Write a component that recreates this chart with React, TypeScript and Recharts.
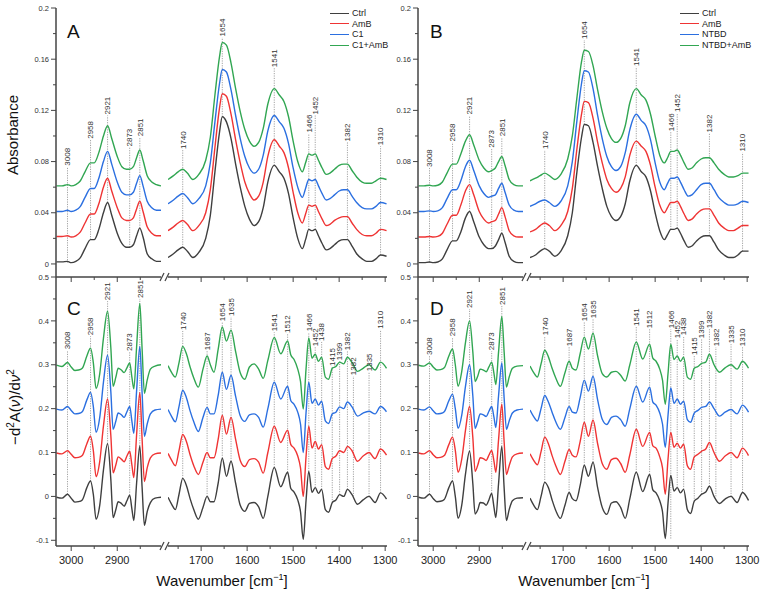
import React from 'react';
import { LineChart, Line, XAxis, YAxis, ReferenceLine, ReferenceDot, Legend } from 'recharts';

const FONT = '"Liberation Sans", Arial, Helvetica, sans-serif';
const KEYS = ['ctrl', 'amb', 'drug', 'combo'];
const COLORS = ['#3f3f3f', '#ef3434', '#2b6fe0', '#31a652'];
const NAMES_C1 = ['Ctrl', 'AmB', 'C1', 'C1+AmB'];
const NAMES_NTBD = ['Ctrl', 'AmB', 'NTBD', 'NTBD+AmB'];

// wavenumber grids, cm-1
const absLeftWn = [3032, 3020, 3008, 3000, 2990, 2980, 2970, 2958, 2950, 2940, 2930, 2921, 2912, 2900, 2890, 2880, 2873, 2865, 2858, 2851, 2844, 2835, 2825, 2815, 2805];
const absRightWn = [1772, 1760, 1750, 1740, 1730, 1718, 1705, 1690, 1680, 1670, 1660, 1654, 1645, 1635, 1625, 1615, 1605, 1595, 1585, 1575, 1565, 1555, 1541, 1530, 1520, 1510, 1500, 1490, 1480, 1473, 1466, 1459, 1452, 1445, 1437, 1428, 1420, 1410, 1400, 1390, 1382, 1372, 1362, 1350, 1340, 1330, 1320, 1310, 1297];
const derLeftWn = [3032, 3020, 3008, 3000, 2992, 2984, 2976, 2966, 2958, 2952, 2946, 2938, 2930, 2921, 2914, 2909, 2903, 2898, 2891, 2885, 2879, 2873, 2868, 2864, 2858, 2851, 2846, 2841, 2835, 2828, 2818, 2805];
const derRightWn = [1772, 1764, 1756, 1748, 1740, 1732, 1724, 1716, 1706, 1696, 1687, 1680, 1672, 1663, 1654, 1645, 1635, 1625, 1615, 1605, 1595, 1585, 1575, 1565, 1555, 1541, 1527, 1512, 1505, 1498, 1490, 1484, 1478, 1472, 1466, 1459, 1452, 1445, 1438, 1430, 1423, 1415, 1407, 1399, 1390, 1382, 1372, 1360, 1348, 1335, 1322, 1310, 1297];

// tick values
const absYTicks = [0, 0.02, 0.04, 0.06, 0.08, 0.1, 0.12, 0.14, 0.16, 0.18, 0.2];
const derYTicks = [-0.1, -0.05, 0, 0.05, 0.1, 0.15, 0.2, 0.25, 0.3, 0.35, 0.4, 0.45, 0.5];
const xTicksLeft = [3000, 2950, 2900, 2850];
const xTicksRight = [1750, 1700, 1650, 1600, 1550, 1500, 1450, 1400, 1350, 1300];

// A: absorbance, C1 series (stacked as shown)
const aCtrlL = [0.0016, 0.0016, 0.002, 0.001, 0.002, 0.005, 0.012, 0.019, 0.019, 0.027, 0.040, 0.048, 0.038, 0.024, 0.016, 0.013, 0.013, 0.015, 0.022, 0.028, 0.021, 0.008, 0.004, 0.002, 0.002];
const aAmbL = [0.0215, 0.0215, 0.022, 0.021, 0.022, 0.025, 0.032, 0.039, 0.039, 0.047, 0.060, 0.067, 0.057, 0.044, 0.036, 0.034, 0.034, 0.036, 0.043, 0.049, 0.041, 0.029, 0.024, 0.022, 0.022];
const aDrugL = [0.041, 0.041, 0.042, 0.041, 0.042, 0.045, 0.052, 0.059, 0.059, 0.067, 0.080, 0.088, 0.078, 0.064, 0.056, 0.054, 0.054, 0.056, 0.063, 0.069, 0.061, 0.049, 0.044, 0.042, 0.042];
const aComboL = [0.061, 0.061, 0.062, 0.061, 0.062, 0.065, 0.072, 0.079, 0.079, 0.087, 0.100, 0.108, 0.098, 0.084, 0.076, 0.074, 0.074, 0.076, 0.083, 0.089, 0.081, 0.069, 0.064, 0.062, 0.061];
const aCtrlR = [0.005, 0.008, 0.011, 0.013, 0.010, 0.005, 0.009, 0.020, 0.038, 0.072, 0.103, 0.115, 0.111, 0.098, 0.078, 0.060, 0.045, 0.035, 0.030, 0.033, 0.044, 0.064, 0.077, 0.072, 0.067, 0.055, 0.036, 0.020, 0.012, 0.019, 0.027, 0.026, 0.027, 0.022, 0.016, 0.011, 0.012, 0.015, 0.018, 0.019, 0.019, 0.014, 0.008, 0.004, 0.002, 0.002, 0.004, 0.007, 0.006];
const aAmbR = [0.026, 0.029, 0.032, 0.034, 0.031, 0.026, 0.030, 0.040, 0.058, 0.091, 0.122, 0.133, 0.131, 0.117, 0.097, 0.079, 0.064, 0.055, 0.050, 0.053, 0.064, 0.084, 0.097, 0.092, 0.087, 0.075, 0.056, 0.040, 0.032, 0.039, 0.046, 0.045, 0.046, 0.041, 0.035, 0.030, 0.031, 0.034, 0.036, 0.037, 0.037, 0.032, 0.027, 0.023, 0.022, 0.022, 0.024, 0.027, 0.026];
const aDrugR = [0.047, 0.050, 0.053, 0.055, 0.052, 0.047, 0.051, 0.061, 0.079, 0.111, 0.141, 0.152, 0.150, 0.136, 0.116, 0.098, 0.084, 0.075, 0.071, 0.074, 0.085, 0.104, 0.116, 0.111, 0.106, 0.094, 0.075, 0.060, 0.052, 0.059, 0.066, 0.065, 0.066, 0.061, 0.055, 0.050, 0.051, 0.054, 0.057, 0.058, 0.058, 0.053, 0.048, 0.044, 0.043, 0.043, 0.045, 0.048, 0.047];
const aComboR = [0.066, 0.069, 0.072, 0.074, 0.071, 0.066, 0.070, 0.081, 0.099, 0.132, 0.162, 0.173, 0.171, 0.157, 0.137, 0.119, 0.105, 0.096, 0.092, 0.095, 0.106, 0.125, 0.137, 0.132, 0.127, 0.115, 0.096, 0.080, 0.072, 0.079, 0.086, 0.085, 0.086, 0.081, 0.075, 0.070, 0.071, 0.074, 0.077, 0.078, 0.078, 0.073, 0.068, 0.064, 0.063, 0.063, 0.065, 0.067, 0.066];

// B: absorbance, NTBD series
const bCtrlL = [0.001, 0.001, 0.0015, 0.001, 0.0015, 0.004, 0.011, 0.018, 0.018, 0.025, 0.036, 0.041, 0.033, 0.021, 0.015, 0.012, 0.012, 0.014, 0.019, 0.024, 0.017, 0.006, 0.002, 0.001, 0.001];
const bAmbL = [0.021, 0.021, 0.0215, 0.021, 0.0215, 0.024, 0.031, 0.038, 0.038, 0.046, 0.057, 0.062, 0.054, 0.041, 0.035, 0.032, 0.033, 0.034, 0.039, 0.044, 0.037, 0.026, 0.022, 0.021, 0.021];
const bDrugL = [0.041, 0.041, 0.0415, 0.041, 0.0415, 0.044, 0.051, 0.058, 0.058, 0.065, 0.076, 0.081, 0.073, 0.061, 0.055, 0.052, 0.053, 0.054, 0.059, 0.063, 0.056, 0.046, 0.042, 0.041, 0.041];
const bComboL = [0.061, 0.061, 0.0615, 0.061, 0.0615, 0.064, 0.071, 0.078, 0.078, 0.086, 0.096, 0.101, 0.093, 0.081, 0.075, 0.072, 0.073, 0.075, 0.080, 0.084, 0.077, 0.066, 0.062, 0.061, 0.061];
const bCtrlR = [0.005, 0.007, 0.010, 0.012, 0.010, 0.006, 0.010, 0.022, 0.040, 0.072, 0.099, 0.109, 0.108, 0.095, 0.076, 0.059, 0.045, 0.037, 0.034, 0.037, 0.047, 0.065, 0.077, 0.072, 0.068, 0.057, 0.040, 0.026, 0.019, 0.023, 0.027, 0.027, 0.028, 0.024, 0.018, 0.013, 0.014, 0.018, 0.021, 0.022, 0.022, 0.017, 0.011, 0.007, 0.005, 0.005, 0.007, 0.010, 0.010];
const bAmbR = [0.025, 0.027, 0.030, 0.032, 0.030, 0.026, 0.030, 0.041, 0.059, 0.090, 0.117, 0.127, 0.126, 0.114, 0.095, 0.079, 0.066, 0.059, 0.056, 0.059, 0.068, 0.085, 0.096, 0.092, 0.088, 0.077, 0.060, 0.046, 0.040, 0.044, 0.048, 0.048, 0.049, 0.045, 0.039, 0.034, 0.035, 0.039, 0.042, 0.043, 0.043, 0.038, 0.032, 0.028, 0.026, 0.026, 0.028, 0.030, 0.030];
const bDrugR = [0.045, 0.047, 0.049, 0.050, 0.048, 0.045, 0.049, 0.061, 0.080, 0.112, 0.141, 0.151, 0.150, 0.137, 0.116, 0.098, 0.084, 0.076, 0.073, 0.076, 0.087, 0.105, 0.117, 0.112, 0.108, 0.097, 0.079, 0.064, 0.058, 0.063, 0.067, 0.067, 0.068, 0.064, 0.058, 0.053, 0.054, 0.058, 0.062, 0.063, 0.063, 0.058, 0.052, 0.048, 0.046, 0.046, 0.047, 0.049, 0.048];
const bComboR = [0.065, 0.067, 0.069, 0.071, 0.069, 0.066, 0.070, 0.082, 0.100, 0.130, 0.158, 0.167, 0.166, 0.155, 0.136, 0.119, 0.106, 0.098, 0.095, 0.098, 0.108, 0.126, 0.137, 0.132, 0.128, 0.117, 0.100, 0.085, 0.079, 0.083, 0.088, 0.088, 0.089, 0.085, 0.079, 0.074, 0.075, 0.079, 0.082, 0.083, 0.083, 0.079, 0.074, 0.070, 0.068, 0.068, 0.069, 0.071, 0.071];

// C: second derivative, C1 series
const cCtrlL = [-0.002, -0.004, 0.005, -0.004, -0.013, -0.012, -0.008, 0.020, 0.035, 0.005, -0.052, -0.020, 0.060, 0.120, 0.040, -0.048, -0.030, -0.012, -0.016, -0.022, -0.010, 0.003, -0.030, -0.055, 0.030, 0.115, 0.020, -0.066, -0.035, -0.014, -0.004, -0.002];
const cAmbL = [0.099, 0.097, 0.104, 0.096, 0.088, 0.089, 0.093, 0.120, 0.137, 0.105, 0.045, 0.080, 0.160, 0.222, 0.140, 0.054, 0.072, 0.090, 0.085, 0.079, 0.092, 0.103, 0.070, 0.043, 0.140, 0.237, 0.130, 0.034, 0.065, 0.088, 0.097, 0.099];
const cDrugL = [0.199, 0.197, 0.205, 0.196, 0.188, 0.189, 0.193, 0.220, 0.237, 0.205, 0.146, 0.180, 0.260, 0.322, 0.240, 0.153, 0.172, 0.190, 0.186, 0.180, 0.193, 0.205, 0.170, 0.144, 0.240, 0.342, 0.235, 0.137, 0.165, 0.188, 0.197, 0.199];
const cComboL = [0.299, 0.296, 0.305, 0.295, 0.287, 0.288, 0.292, 0.320, 0.338, 0.305, 0.246, 0.280, 0.360, 0.422, 0.340, 0.251, 0.272, 0.292, 0.288, 0.282, 0.293, 0.304, 0.270, 0.245, 0.340, 0.440, 0.335, 0.235, 0.265, 0.290, 0.297, 0.300];
const cCtrlR = [-0.002, -0.018, -0.030, 0.005, 0.041, 0.025, -0.005, -0.030, -0.052, -0.025, 0.000, -0.012, -0.012, 0.030, 0.087, 0.046, 0.080, 0.030, -0.020, -0.034, -0.016, -0.014, -0.024, -0.050, 0.000, 0.066, 0.022, 0.055, 0.018, 0.010, -0.008, -0.035, -0.098, -0.010, 0.057, 0.009, 0.020, 0.007, 0.016, -0.030, -0.036, -0.014, -0.008, 0.004, 0.000, 0.016, 0.004, -0.018, -0.008, 0.000, -0.014, 0.008, -0.006];
const cAmbR = [0.098, 0.082, 0.070, 0.105, 0.141, 0.125, 0.095, 0.070, 0.050, 0.078, 0.100, 0.088, 0.088, 0.130, 0.185, 0.142, 0.180, 0.130, 0.082, 0.068, 0.084, 0.086, 0.078, 0.053, 0.100, 0.160, 0.123, 0.151, 0.118, 0.110, 0.092, 0.065, 0.000, 0.090, 0.160, 0.110, 0.125, 0.108, 0.118, 0.068, 0.062, 0.086, 0.092, 0.104, 0.100, 0.114, 0.104, 0.080, 0.092, 0.100, 0.086, 0.108, 0.094];
const cDrugR = [0.198, 0.182, 0.170, 0.205, 0.242, 0.225, 0.195, 0.170, 0.148, 0.180, 0.203, 0.188, 0.188, 0.230, 0.283, 0.244, 0.276, 0.228, 0.184, 0.171, 0.186, 0.188, 0.180, 0.158, 0.200, 0.260, 0.222, 0.251, 0.218, 0.210, 0.192, 0.165, 0.100, 0.190, 0.260, 0.212, 0.222, 0.208, 0.217, 0.172, 0.166, 0.188, 0.192, 0.204, 0.200, 0.215, 0.204, 0.183, 0.190, 0.194, 0.188, 0.205, 0.193];
const cComboR = [0.298, 0.282, 0.272, 0.305, 0.342, 0.325, 0.295, 0.270, 0.249, 0.290, 0.320, 0.300, 0.283, 0.335, 0.386, 0.354, 0.379, 0.330, 0.282, 0.267, 0.295, 0.302, 0.290, 0.269, 0.310, 0.362, 0.325, 0.354, 0.322, 0.312, 0.290, 0.262, 0.199, 0.290, 0.361, 0.315, 0.324, 0.308, 0.317, 0.272, 0.267, 0.292, 0.296, 0.306, 0.302, 0.317, 0.305, 0.285, 0.292, 0.300, 0.288, 0.306, 0.292];

// D: second derivative, NTBD series
const dCtrlL = [-0.002, -0.004, 0.005, -0.005, -0.012, -0.011, -0.007, 0.020, 0.035, 0.000, -0.050, -0.020, 0.050, 0.103, 0.030, -0.040, -0.030, -0.014, -0.015, -0.020, -0.008, 0.007, -0.025, -0.048, 0.030, 0.114, 0.020, -0.055, -0.030, -0.010, -0.004, -0.003];
const dAmbL = [0.099, 0.097, 0.104, 0.095, 0.088, 0.089, 0.093, 0.118, 0.135, 0.105, 0.055, 0.085, 0.150, 0.205, 0.135, 0.057, 0.072, 0.088, 0.086, 0.082, 0.094, 0.105, 0.080, 0.055, 0.130, 0.210, 0.125, 0.050, 0.070, 0.090, 0.097, 0.099];
const dDrugL = [0.199, 0.197, 0.204, 0.195, 0.188, 0.189, 0.193, 0.218, 0.233, 0.200, 0.155, 0.185, 0.250, 0.300, 0.230, 0.155, 0.172, 0.188, 0.186, 0.182, 0.194, 0.205, 0.180, 0.157, 0.230, 0.304, 0.225, 0.153, 0.172, 0.190, 0.197, 0.199];
const dComboL = [0.299, 0.297, 0.304, 0.295, 0.288, 0.289, 0.293, 0.320, 0.336, 0.300, 0.251, 0.285, 0.350, 0.400, 0.330, 0.262, 0.275, 0.290, 0.288, 0.284, 0.295, 0.306, 0.280, 0.255, 0.330, 0.410, 0.330, 0.249, 0.272, 0.292, 0.297, 0.298];
const dCtrlR = [-0.004, -0.020, -0.030, 0.000, 0.032, 0.020, -0.008, -0.032, -0.050, -0.020, 0.009, -0.005, -0.010, 0.025, 0.071, 0.046, 0.078, 0.020, -0.025, -0.041, -0.015, -0.012, -0.025, -0.050, -0.005, 0.055, 0.011, 0.050, 0.015, 0.008, -0.010, -0.035, -0.096, -0.015, 0.048, 0.012, 0.020, 0.008, 0.016, -0.030, -0.039, -0.011, -0.004, 0.005, 0.010, 0.023, 0.000, -0.016, -0.006, 0.000, -0.014, 0.009, -0.009];
const dAmbR = [0.097, 0.082, 0.072, 0.102, 0.135, 0.120, 0.093, 0.070, 0.050, 0.080, 0.107, 0.094, 0.090, 0.125, 0.169, 0.137, 0.174, 0.120, 0.075, 0.062, 0.084, 0.087, 0.075, 0.055, 0.095, 0.153, 0.114, 0.146, 0.115, 0.110, 0.090, 0.065, 0.005, 0.085, 0.146, 0.112, 0.121, 0.110, 0.119, 0.070, 0.062, 0.090, 0.096, 0.103, 0.108, 0.123, 0.100, 0.080, 0.092, 0.100, 0.088, 0.110, 0.093];
const dDrugR = [0.197, 0.182, 0.172, 0.200, 0.230, 0.215, 0.192, 0.170, 0.153, 0.180, 0.205, 0.192, 0.190, 0.225, 0.265, 0.240, 0.274, 0.220, 0.176, 0.164, 0.180, 0.183, 0.175, 0.160, 0.200, 0.251, 0.215, 0.249, 0.215, 0.208, 0.190, 0.165, 0.112, 0.185, 0.247, 0.212, 0.222, 0.210, 0.217, 0.175, 0.169, 0.190, 0.196, 0.203, 0.205, 0.215, 0.200, 0.183, 0.192, 0.198, 0.188, 0.208, 0.192];
const dComboR = [0.297, 0.282, 0.272, 0.302, 0.333, 0.318, 0.292, 0.270, 0.251, 0.282, 0.308, 0.292, 0.288, 0.325, 0.363, 0.336, 0.372, 0.320, 0.280, 0.272, 0.283, 0.285, 0.276, 0.263, 0.300, 0.352, 0.313, 0.347, 0.315, 0.308, 0.290, 0.265, 0.210, 0.280, 0.347, 0.312, 0.320, 0.308, 0.317, 0.272, 0.267, 0.292, 0.296, 0.303, 0.306, 0.324, 0.300, 0.283, 0.293, 0.300, 0.290, 0.308, 0.292];

// peak markers: [wavenumber, label, label start value, line end value]
type Ann = [number, string, number, number];
const annA: Ann[] = [[3008, '3008', 0.076, 0.001], [2958, '2958', 0.097, 0.019], [2921, '2921', 0.116, 0.048], [2873, '2873', 0.091, 0.013], [2851, '2851', 0.099, 0.028], [1740, '1740', 0.089, 0.013], [1654, '1654', 0.177, 0.115], [1541, '1541', 0.153, 0.077], [1466, '1466', 0.102, 0.027], [1452, '1452', 0.116, 0.027], [1382, '1382', 0.095, 0.019], [1310, '1310', 0.092, 0.007]];
const annB: Ann[] = [[3008, '3008', 0.075, 0.001], [2958, '2958', 0.095, 0.018], [2921, '2921', 0.116, 0.041], [2873, '2873', 0.09, 0.012], [2851, '2851', 0.099, 0.024], [1740, '1740', 0.089, 0.012], [1654, '1654', 0.175, 0.109], [1541, '1541', 0.154, 0.077], [1466, '1466', 0.103, 0.027], [1452, '1452', 0.118, 0.028], [1382, '1382', 0.102, 0.022], [1310, '1310', 0.087, 0.01]];
const annC: Ann[] = [[3008, '3008', 0.333, 0.005], [2958, '2958', 0.365, 0.035], [2921, '2921', 0.445, 0.12], [2873, '2873', 0.329, 0.003], [2851, '2851', 0.45, 0.115], [1740, '1740', 0.377, 0.041], [1687, '1687', 0.331, 0], [1654, '1654', 0.397, 0.087], [1635, '1635', 0.409, 0.08], [1541, '1541', 0.374, 0.066], [1512, '1512', 0.37, 0.055], [1466, '1466', 0.374, 0.057], [1452, '1452', 0.34, 0.02], [1438, '1438', 0.352, 0.016], [1415, '1415', 0.295, -0.014], [1399, '1399', 0.308, 0.004], [1382, '1382', 0.331, 0.016], [1369, '1382', 0.274, 0], [1335, '1335', 0.283, 0], [1310, '1310', 0.38, 0.008]];
const annD: Ann[] = [[3008, '3008', 0.32, 0.005], [2958, '2958', 0.363, 0.035], [2921, '2921', 0.427, 0.103], [2873, '2873', 0.331, 0.007], [2851, '2851', 0.434, 0.114], [1740, '1740', 0.365, 0.032], [1687, '1687', 0.34, 0.009], [1654, '1654', 0.397, 0.071], [1635, '1635', 0.404, 0.078], [1541, '1541', 0.386, 0.055], [1512, '1512', 0.381, 0.05], [1466, '1466', 0.381, -0.096], [1452, '1452', 0.358, 0.02], [1438, '1438', 0.365, 0.016], [1415, '1415', 0.32, -0.011], [1399, '1399', 0.358, 0.005], [1382, '1382', 0.381, 0.023], [1368, '1382', 0.34, 0], [1335, '1335', 0.347, 0], [1310, '1310', 0.34, 0.009]];

const rows = (wn: number[], s: number[][]) =>
  wn.map((w, i) => ({ wn: w, ctrl: s[0][i], amb: s[1][i], drug: s[2][i], combo: s[3][i] }));

const PLOT_H = 269;
const Y_W = 56;
const LEFT_W = 105;
const GAP = 7;
const RIGHT_W = 219;
const RIGHT_PAD = 14;
const AXIS = { stroke: '#444', strokeWidth: 1.5 };

const fmt = (v: number) => (v === 0 ? '0' : String(Number(v.toFixed(2))));

const YTick = (props: any) => {
  const { x, y, payload, majorStep } = props;
  const r = payload.value / majorStep;
  const major = Math.abs(r - Math.round(r)) < 1e-6;
  return (
    <g>
      <line x1={x - (major ? 5 : 3)} x2={x} y1={y} y2={y} stroke="#444" strokeWidth={1} />
      {major && (
        <text x={x - 7} y={y} dy="0.35em" textAnchor="end" fontSize={7.5} fill="#333" fontFamily={FONT}>
          {fmt(payload.value)}
        </text>
      )}
    </g>
  );
};

const XTick = (props: any) => {
  const { x, y, payload, labels } = props;
  const major = payload.value % 100 === 0;
  return (
    <g>
      <line x1={x} x2={x} y1={y} y2={y + (major ? 5 : 3)} stroke="#444" strokeWidth={1} />
      {labels && major && (
        <text x={x} y={y + 18} textAnchor="middle" fontSize={11} fill="#222" fontFamily={FONT}>
          {payload.value}
        </text>
      )}
    </g>
  );
};

const AnnText = ({ cx, cy, text }: { cx: number; cy: number; text: string }) => (
  <text x={cx} y={cy - 1} dy="0.35em" transform={`rotate(-90, ${cx}, ${cy - 1})`} fontSize={8} fill="#333" fontFamily={FONT}>
    {text}
  </text>
);

const LegendBox = ({ payload, names }: any) => {
  const items = [...(payload || [])].sort((a: any, b: any) => names.indexOf(a.value) - names.indexOf(b.value));
  return (
    <div style={{ fontFamily: FONT, fontSize: 9, color: '#222' }}>
      {items.map((e: any) => (
        <div key={e.value} style={{ display: 'flex', alignItems: 'center', height: 10.6 }}>
          <span style={{ width: 19, height: 0, borderTop: `1.5px solid ${e.color}`, marginRight: 3 }} />
          <span>{e.value}</span>
        </div>
      ))}
    </div>
  );
};

interface SegProps {
  left: number; top: number; width: number; height: number; mt: number; mr: number; xh: number;
  data: any[]; domain: number[]; xTicks: number[]; yDomain: number[]; yTicks: number[];
  majorStep: number; withY: boolean; names: string[]; anns: Ann[]; xLabels: boolean;
  legend?: { x: number; y: number };
}

const Segment = (p: SegProps) => (
  <div style={{ position: 'absolute', left: p.left, top: p.top }}>
    <LineChart width={p.width} height={p.height} data={p.data} margin={{ top: p.mt, right: p.mr, bottom: 0, left: 0 }}>
      <XAxis
        type="number" dataKey="wn" domain={p.domain} reversed allowDataOverflow
        ticks={p.xTicks} interval={0} height={p.xh} tickSize={0} tickMargin={0}
        tickLine={false} axisLine={AXIS} tick={<XTick labels={p.xLabels} />}
      />
      <YAxis
        type="number" domain={p.yDomain} allowDataOverflow hide={!p.withY} width={p.withY ? Y_W : 0}
        ticks={p.yTicks} interval={0} tickSize={0} tickMargin={0}
        tickLine={false} axisLine={AXIS} tick={<YTick majorStep={p.majorStep} />}
      />
      {p.anns.map(([wn, txt, top, bot]) => (
        <ReferenceLine
          key={`l-${txt}-${wn}`}
          segment={[{ x: wn, y: bot }, { x: wn, y: top }]}
          stroke="#8c8c8c" strokeWidth={0.8} strokeDasharray="1.2 1.2" ifOverflow="visible"
        />
      ))}
      {p.anns.map(([wn, txt, top]) => (
        <ReferenceDot
          key={`t-${txt}-${wn}`} x={wn} y={top} r={1} ifOverflow="visible"
          shape={(s: any) => <AnnText cx={s.cx} cy={s.cy} text={txt} />}
        />
      ))}
      {KEYS.map((k, i) => (
        <Line
          key={k} dataKey={k} name={p.names[i]} type="monotone" stroke={COLORS[i]}
          strokeWidth={1.4} dot={false} isAnimationActive={false}
        />
      ))}
      {p.legend && (
        <Legend
          layout="vertical" align="center" verticalAlign="middle"
          wrapperStyle={{ left: p.legend.x, top: p.legend.y, right: 'auto', bottom: 'auto', width: 100 }}
          content={(c: any) => <LegendBox payload={c.payload} names={p.names} />}
        />
      )}
    </LineChart>
  </div>
);

interface PanelProps {
  x0: number; top: number; mt: number; xh: number; yDomain: number[]; yTicks: number[];
  majorStep: number; leftData: any[]; rightData: any[]; names: string[]; anns: Ann[];
  xLabels: boolean; legend?: { x: number; y: number };
}

const Panel = (p: PanelProps) => {
  const h = p.mt + PLOT_H + p.xh;
  const common = { top: p.top, height: h, mt: p.mt, xh: p.xh, yDomain: p.yDomain, yTicks: p.yTicks, majorStep: p.majorStep, names: p.names, xLabels: p.xLabels };
  return (
    <>
      <Segment {...common} left={p.x0 - Y_W} width={Y_W + LEFT_W} mr={0} withY data={p.leftData}
        domain={[2805, 3033]} xTicks={xTicksLeft} anns={p.anns.filter((a) => a[0] > 2000)} />
      <Segment {...common} left={p.x0 + LEFT_W + GAP} width={RIGHT_W + RIGHT_PAD} mr={RIGHT_PAD} withY={false} data={p.rightData}
        domain={[1296, 1772]} xTicks={xTicksRight} anns={p.anns.filter((a) => a[0] < 2000)} legend={p.legend} />
    </>
  );
};

const BreakMark = ({ x, y }: { x: number; y: number }) => (
  <g stroke="#444" strokeWidth={1.2}>
    <line x1={x - 4.5} y1={y + 4} x2={x - 0.5} y2={y - 4} />
    <line x1={x + 0.5} y1={y + 4} x2={x + 4.5} y2={y - 4} />
  </g>
);

export default function App() {
  return (
    <div style={{ position: 'absolute', left: 0, top: 0, width: 763, height: 597, background: '#fff', overflow: 'hidden' }}>
      <Panel x0={56} top={0} mt={8} xh={12} yDomain={[-0.0102, 0.2]} yTicks={absYTicks} majorStep={0.04}
        leftData={rows(absLeftWn, [aCtrlL, aAmbL, aDrugL, aComboL])}
        rightData={rows(absRightWn, [aCtrlR, aAmbR, aDrugR, aComboR])}
        names={NAMES_C1} anns={annA} xLabels={false} legend={{ x: 162, y: 8 }} />
      <Panel x0={418} top={0} mt={8} xh={12} yDomain={[-0.0102, 0.2]} yTicks={absYTicks} majorStep={0.04}
        leftData={rows(absLeftWn, [bCtrlL, bAmbL, bDrugL, bComboL])}
        rightData={rows(absRightWn, [bCtrlR, bAmbR, bDrugR, bComboR])}
        names={NAMES_NTBD} anns={annB} xLabels={false} legend={{ x: 150, y: 8 }} />
      <Panel x0={56} top={267} mt={10} xh={32} yDomain={[-0.113, 0.5]} yTicks={derYTicks} majorStep={0.1}
        leftData={rows(derLeftWn, [cCtrlL, cAmbL, cDrugL, cComboL])}
        rightData={rows(derRightWn, [cCtrlR, cAmbR, cDrugR, cComboR])}
        names={NAMES_C1} anns={annC} xLabels />
      <Panel x0={418} top={267} mt={10} xh={32} yDomain={[-0.113, 0.5]} yTicks={derYTicks} majorStep={0.1}
        leftData={rows(derLeftWn, [dCtrlL, dAmbL, dDrugL, dComboL])}
        rightData={rows(derRightWn, [dCtrlR, dAmbR, dDrugR, dComboR])}
        names={NAMES_NTBD} anns={annD} xLabels />
      <svg width={763} height={597} style={{ position: 'absolute', left: 0, top: 0, pointerEvents: 'none' }} fontFamily={FONT}>
        <BreakMark x={164.5} y={277} />
        <BreakMark x={164.5} y={546} />
        <BreakMark x={526.5} y={277} />
        <BreakMark x={526.5} y={546} />
        <text x={67} y={38} fontSize={19} fill="#111">A</text>
        <text x={430} y={38} fontSize={19} fill="#111">B</text>
        <text x={67} y={315} fontSize={19} fill="#111">C</text>
        <text x={430} y={315} fontSize={19} fill="#111">D</text>
        <text transform="translate(18,135) rotate(-90)" textAnchor="middle" fontSize={15} fill="#111">Absorbance</text>
        <text transform="translate(20,407) rotate(-90)" textAnchor="middle" fontSize={15} fill="#111">
          −d<tspan dy={-6} fontSize={10}>2</tspan>
          <tspan dy={6}>A(</tspan>
          <tspan fontStyle="italic">ν</tspan>)/d<tspan fontStyle="italic">ν</tspan>
          <tspan dy={-6} fontSize={10}>2</tspan>
        </text>
        <text x={222} y={586} textAnchor="middle" fontSize={15} fill="#111">
          Wavenumber [cm<tspan dy={-6} fontSize={9}>−1</tspan><tspan dy={6}>]</tspan>
        </text>
        <text x={584} y={586} textAnchor="middle" fontSize={15} fill="#111">
          Wavenumber [cm<tspan dy={-6} fontSize={9}>−1</tspan><tspan dy={6}>]</tspan>
        </text>
      </svg>
    </div>
  );
}
